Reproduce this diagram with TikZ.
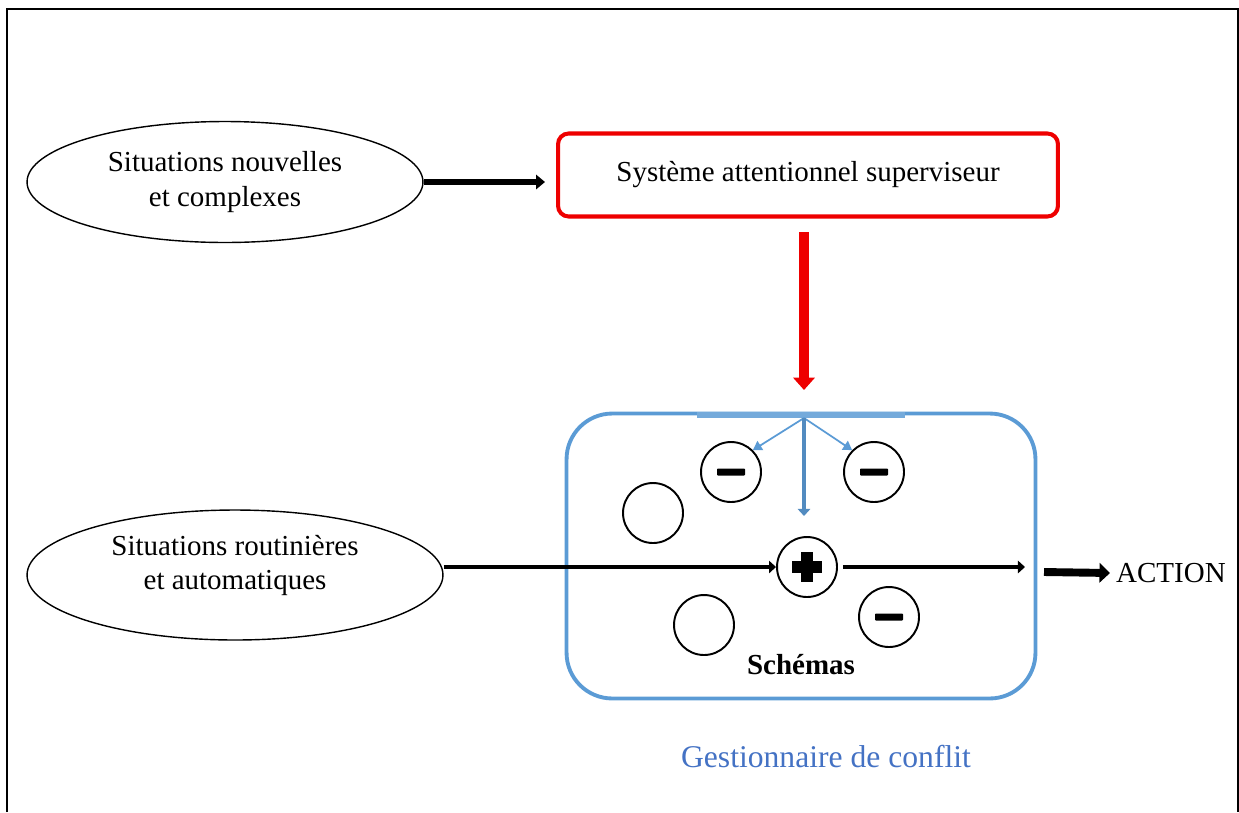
\documentclass[tikz,border=0pt]{standalone}
\usepackage{fontspec}
\setmainfont{Liberation Serif}
\usepackage{tikz}
\usetikzlibrary{positioning}
\usetikzlibrary{arrows.meta}
\usetikzlibrary{shapes.geometric}
\definecolor{sasred}{RGB}{238,0,0}
\definecolor{schemablue}{RGB}{91,155,213}
\definecolor{titleblue}{RGB}{68,114,196}

\begin{document}
\begin{tikzpicture}[x=0.02cm, y=-0.02cm,
situation/.style={ellipse, draw=black, thick, align=center, font=\fontsize{16.5}{19.5}\selectfont},
sasbox/.style={rectangle, rounded corners=6pt, draw=sasred, line width=2.3pt, minimum width=10cm, minimum height=1.66cm, font=\fontsize{16.5}{19.5}\selectfont},
schemabox/.style={rectangle, rounded corners=26pt, draw=schemablue, line width=2.2pt, minimum width=9.38cm, minimum height=5.7cm},
schema/.style={circle, draw=black, line width=1.1pt, minimum size=1.2cm, inner sep=0pt},
flow/.style={line width=3.2pt, -{Triangle[length=5pt, width=8pt]}},
fan/.style={schemablue, line width=1pt, -{Triangle[length=5pt, width=6pt]}},
]
\useasboundingbox (0,0) rectangle (1239,812);
\draw[line width=1.4pt] (7,812) -- (7,9) -- (1238,9) -- (1238,812);

%Nodes
\node[situation, minimum width=7.92cm, minimum height=2.42cm] (novel) at (225,182) {Situations nouvelles\\ et complexes};
\node[sasbox] (sas) at (808,175) {Syst\`eme attentionnel superviseur};
\node[situation, minimum width=8.32cm, minimum height=2.6cm, inner sep=0pt, text depth=14pt] (routine) at (235,575) {Situations routini\`eres\\ et automatiques};
\node[schemabox] (cs) at (801,556) {};
\node[font=\fontsize{16.5}{19.5}\selectfont\bfseries] (schemas) at (801,665) {Sch\'emas};
\node[font=\fontsize{18}{21}\selectfont, text=titleblue] (cslabel) at (826,757) {Gestionnaire de conflit};
\node[font=\fontsize{16.5}{19.5}\selectfont, anchor=west] (action) at (1110,573) {ACTION};

\node[schema] (inhibL) at (731,472) {};
\node[schema] (inhibR) at (874,472) {};
\node[schema] (idle1) at (653,513) {};
\node[schema] (idle2) at (704,625) {};
\node[schema] (active) at (807,567) {};
\node[schema] (inhibB) at (889,617) {};
\coordinate (top) at (804,418);
\coordinate (actout) at (1044,572);

%Signs
\foreach \s in {inhibL, inhibR, inhibB}
  \fill[rounded corners=0.5pt] ([shift={(-14,-3.5)}]\s.center) rectangle ([shift={(14,3.5)}]\s.center);
\fill ([shift={(-15,-6)}]active.center) rectangle ([shift={(15,6)}]active.center);
\fill ([shift={(-6,-15)}]active.center) rectangle ([shift={(6,15)}]active.center);

%Lines
\draw[flow] (novel.east) -- (545,182);
\draw[sasred, line width=6pt, -{Triangle[length=7pt, width=12pt]}] (804,232) -- (804,390);
\draw[schemablue!85, line width=3pt] (697,415) -- (905,415);
\draw[fan] (top) -- (inhibL.north east);
\draw[fan] (top) -- (inhibR.north west);
\draw[schemablue!90!black, line width=2.5pt, -{Triangle[length=4pt, width=7pt]}] (top) -- (804,516);
\draw[line width=2.6pt, -{Triangle[length=4pt, width=7pt]}] (routine.east |- active.west) -- (active.west);
\draw[line width=2.6pt, -{Triangle[length=4pt, width=7pt]}] ([xshift=0.1cm]active.east) -- (active.east -| 1025,0);
\draw[line width=4.5pt, -{Triangle[length=6pt, width=11pt]}] (actout) -- (action.west);
\end{tikzpicture}
\end{document}
